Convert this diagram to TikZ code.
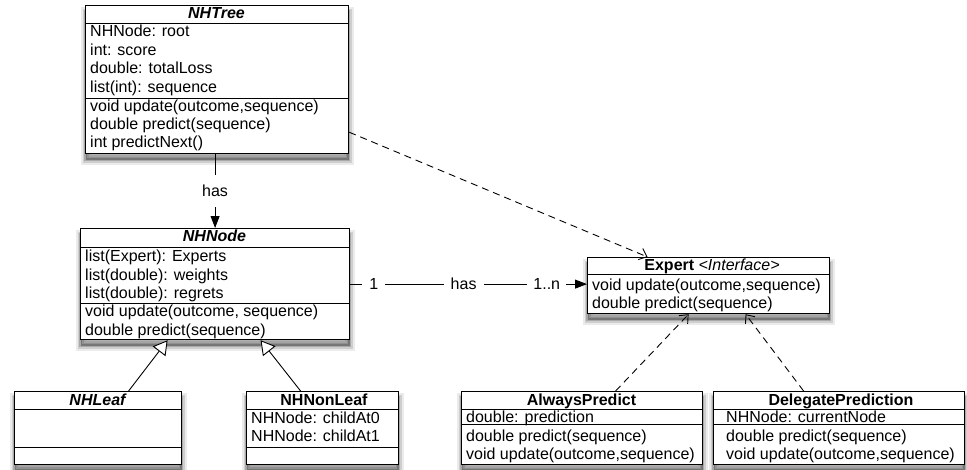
\documentclass[tikz,border=0pt]{standalone}
\usepackage{fontspec}
\setmainfont{Liberation Sans}
\usetikzlibrary{arrows.meta,shadows,calc}
\begin{document}
\begin{tikzpicture}[x=1pt,y=-1pt,
  font=\fontsize{16}{18.5}\selectfont,
  cls/.style={draw, line width=1.2pt, fill=white, inner sep=0pt, anchor=north west,
    general shadow={draw=black, line width=10pt, opacity=0.08, shadow yshift=-6pt},
    general shadow={draw=black, line width=6pt, opacity=0.12, shadow yshift=-6pt},
    general shadow={draw=black, line width=2.5pt, opacity=0.18, shadow yshift=-6pt},
    general shadow={fill=black, opacity=0.3, shadow yshift=-6pt}},
  sepl/.style={line width=0.9pt},
  txt/.style={anchor=base west, inner sep=0pt},
  ttl/.style={anchor=base, inner sep=0pt, font=\fontsize{16}{18.5}\selectfont\bfseries\itshape},
  ttb/.style={anchor=base, inner sep=0pt, font=\fontsize{16}{18.5}\selectfont\bfseries},
  lbl/.style={fill=white, inner xsep=7pt, inner ysep=2pt},
  assoc/.style={line width=0.9pt, -{Triangle[length=12pt,width=9pt]}},
  dsh/.style={line width=0.9pt, dash pattern=on 7pt off 5pt, -{Straight Barb[length=7pt,width=12pt]}},
  inh/.style={line width=0.9pt, -{Triangle[length=14pt,width=16pt,fill=white]}}]
\useasboundingbox (0,0) rectangle (967,469);

% ---------------- NHTree
\node[cls, minimum width=263pt, minimum height=148pt] (tree) at (85,5) {};
\draw[sepl] (tree.west |- 0,23) -- (tree.east |- 0,23);
\draw[sepl] (tree.west |- 0,98) -- (tree.east |- 0,98);
\node[ttl] (treeT) at (216.5,18.5) {NHTree};
\node[txt] (treeA1) at (90,36.7) {NHNode: root};
\node[txt] (treeA2) at (90,55.2) {int: score};
\node[txt] (treeA3) at (90,73.7) {double: totalLoss};
\node[txt] (treeA4) at (90,92.2) {list(int): sequence};
\node[txt] (treeM1) at (90,111) {void update(outcome,sequence)};
\node[txt] (treeM2) at (90,129.3) {double predict(sequence)};
\node[txt] (treeM3) at (90,147.3) {int predictNext()};

% ---------------- NHNode
\node[cls, minimum width=269pt, minimum height=111pt] (nhnode) at (80,228) {};
\draw[sepl] (nhnode.west |- 0,247) -- (nhnode.east |- 0,247);
\draw[sepl] (nhnode.west |- 0,303) -- (nhnode.east |- 0,303);
\node[ttl] (nodeT) at (214.5,241.7) {NHNode};
\node[txt] (nodeA1) at (85,261.5) {list(Expert): Experts};
\node[txt] (nodeA2) at (85,280) {list(double): weights};
\node[txt] (nodeA3) at (85,298.3) {list(double): regrets};
\node[txt] (nodeM1) at (85,316.7) {void update(outcome, sequence)};
\node[txt] (nodeM2) at (85,335) {double predict(sequence)};

% ---------------- NHLeaf
\node[cls, minimum width=167pt, minimum height=72.5pt] (nhleaf) at (14,391) {};
\draw[sepl] (nhleaf.west |- 0,409) -- (nhleaf.east |- 0,409);
\draw[sepl] (nhleaf.west |- 0,447) -- (nhleaf.east |- 0,447);
\node[ttl] (leafT) at (97.5,405) {NHLeaf};

% ---------------- NHNonLeaf
\node[cls, minimum width=152pt, minimum height=72.5pt] (nhnonleaf) at (246,391) {};
\draw[sepl] (nhnonleaf.west |- 0,409) -- (nhnonleaf.east |- 0,409);
\draw[sepl] (nhnonleaf.west |- 0,447) -- (nhnonleaf.east |- 0,447);
\node[ttb] (nonleafT) at (324,405) {NHNonLeaf};
\node[txt] (nonleafA1) at (251,423) {NHNode: childAt0};
\node[txt] (nonleafA2) at (251,441) {NHNode: childAt1};

% ---------------- Expert
\node[cls, minimum width=242pt, minimum height=56pt] (expert) at (587,257) {};
\draw[sepl] (expert.west |- 0,274) -- (expert.east |- 0,274);
\node[anchor=base, inner sep=0pt] (expertT) at (712,270) {\bfseries Expert \normalfont\itshape <Interface>};
\node[txt] (expertM1) at (592,290) {void update(outcome,sequence)};
\node[txt] (expertM2) at (592,308) {double predict(sequence)};

% ---------------- AlwaysPredict
\node[cls, minimum width=241pt, minimum height=73pt] (always) at (461,391) {};
\draw[sepl] (always.west |- 0,409) -- (always.east |- 0,409);
\draw[sepl] (always.west |- 0,424) -- (always.east |- 0,424);
\node[ttb] (alwaysT) at (581.5,405) {AlwaysPredict};
\node[txt] (alwaysA1) at (466,422.5) {double: prediction};
\node[txt] (alwaysM1) at (466,441) {double predict(sequence)};
\node[txt] (alwaysM2) at (466,459) {void update(outcome,sequence)};

% ---------------- DelegatePrediction
\node[cls, minimum width=251pt, minimum height=73pt] (delegate) at (713,391) {};
\draw[sepl] (delegate.west |- 0,409) -- (delegate.east |- 0,409);
\draw[sepl] (delegate.west |- 0,424) -- (delegate.east |- 0,424);
\node[ttb] (delegateT) at (841,405) {DelegatePrediction};
\node[txt] (delegateA1) at (726,422.5) {NHNode: currentNode};
\node[txt] (delegateM1) at (726,441) {double predict(sequence)};
\node[txt] (delegateM2) at (726,459) {void update(outcome,sequence)};

% ---------------- connectors
\draw[assoc] (tree.south -| nhnode.north) -- node[lbl, inner ysep=10.5pt] (has1) {has} (nhnode.north);
\draw[assoc] (nhnode.east) -- node[lbl, pos=0.10] (mult1) {1}
  node[lbl, pos=0.479] (has2) {has}
  node[lbl, pos=0.83, inner xsep=6pt] (multn) {1..n} (nhnode.east -| expert.west);
\draw[dsh] ([yshift=22pt]tree.south east) -- ([xshift=-61pt]expert.north);
\draw[dsh] ([xshift=33.5pt]always.north) -- ([xshift=-20pt]expert.south);
\draw[dsh] ([xshift=-35.5pt]delegate.north) -- ([xshift=37pt]expert.south);
\draw[inh] ([xshift=30.5pt]nhleaf.north) -- ([xshift=-47.5pt]nhnode.south);
\draw[inh] ([xshift=-22pt]nhnonleaf.north) -- ([xshift=45.5pt]nhnode.south);
\end{tikzpicture}
\end{document}
